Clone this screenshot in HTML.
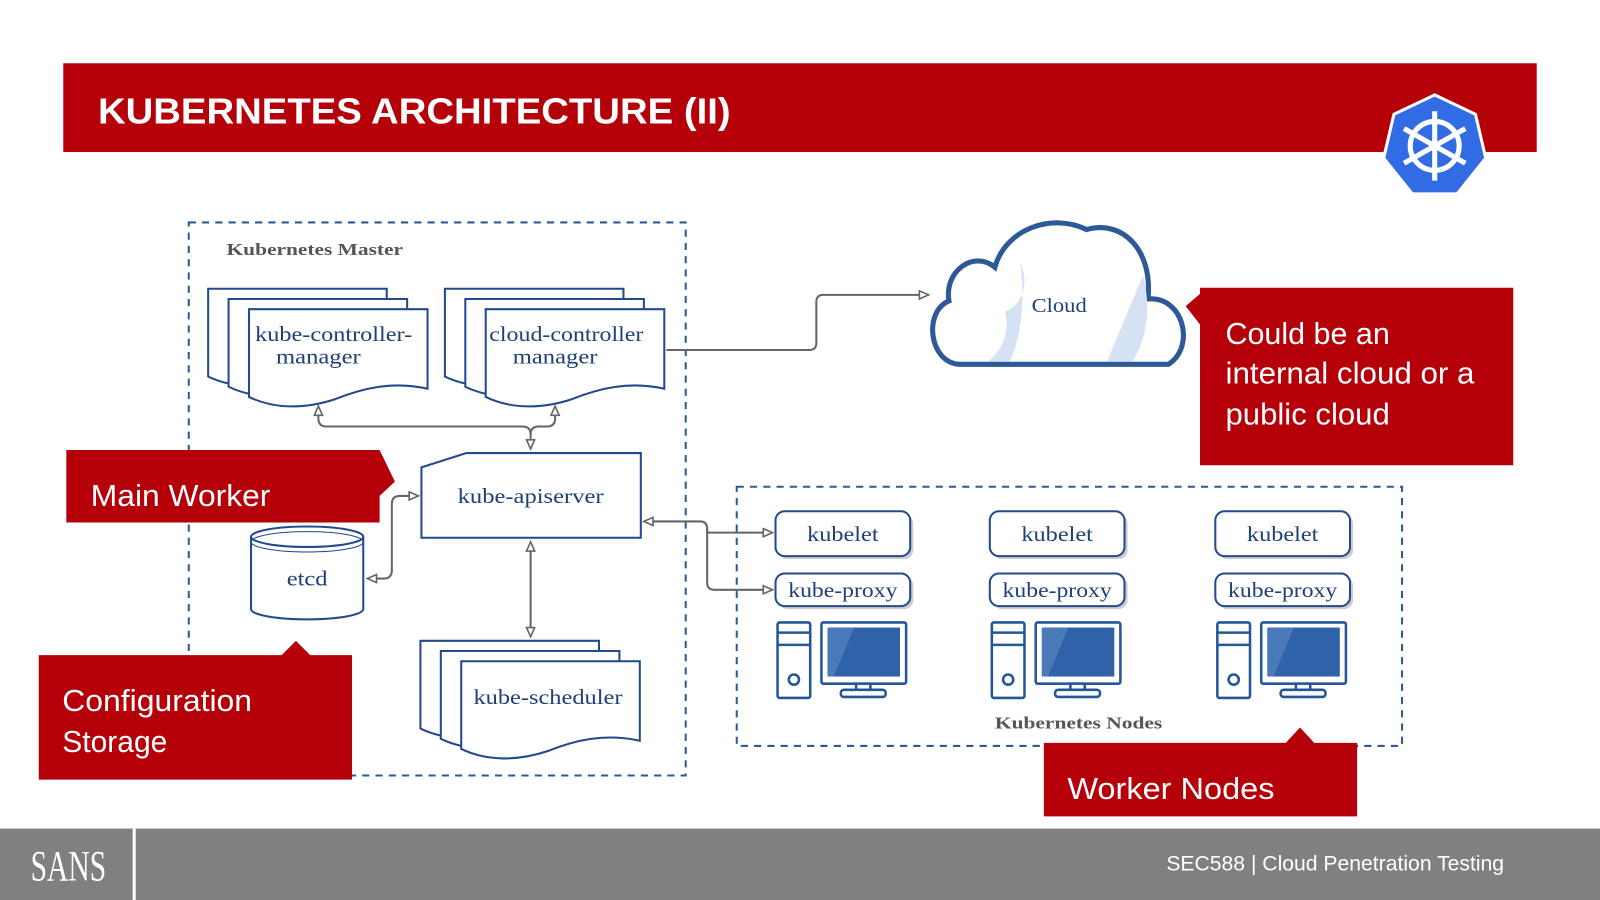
<!DOCTYPE html>
<html><head><meta charset="utf-8"><style>
html,body{margin:0;padding:0;background:#fff;width:1600px;height:900px;overflow:hidden}
svg{display:block}
.s{font-family:"Liberation Serif",serif;fill:#1f3f78}
.c{font-family:"Liberation Sans",sans-serif;fill:#fff}
</style></head><body>
<svg width="1600" height="900" viewBox="0 0 1568 882" preserveAspectRatio="none" xmlns="http://www.w3.org/2000/svg">
<defs>
<marker id="a" markerWidth="12" markerHeight="12" refX="10" refY="5" orient="auto-start-reverse" markerUnits="userSpaceOnUse"><path d="M1,1 L10,5 L1,9 Z" fill="#fff" stroke="#666" stroke-width="1.6"/></marker>
<g id="doc"><path d="M0,0 H175 V78 C140,70 110,78 85,88 C55,98 25,98 0,86 Z" fill="#fff" stroke="#24498c" stroke-width="2"/></g>
<g id="pc">
<rect x="0" y="0" width="32" height="74" rx="2" fill="#fff" stroke="#24569a" stroke-width="2.5"/>
<line x1="0" y1="10" x2="32" y2="10" stroke="#24569a" stroke-width="2.5"/>
<line x1="0" y1="22" x2="32" y2="22" stroke="#24569a" stroke-width="2.5"/>
<circle cx="16" cy="56" r="5" fill="none" stroke="#24569a" stroke-width="2.5"/>
<rect x="43" y="0" width="83" height="60" rx="2" fill="#fff" stroke="#24569a" stroke-width="2.5"/>
<rect x="49" y="5" width="71" height="48" fill="#2f62a8"/>
<path d="M49,5 H75 L55,53 H49 Z" fill="#4b7ab8"/>
<rect x="77" y="60" width="14" height="6" fill="#fff" stroke="#24569a" stroke-width="2.5"/>
<rect x="62" y="66" width="44" height="7" rx="3" fill="#fff" stroke="#24569a" stroke-width="2.5"/>
</g>
</defs>
<rect x="62" y="62" width="1444" height="87" fill="#b5000a"/>
<text x="96" y="121" font-family="Liberation Sans,sans-serif" font-weight="bold" font-size="35" fill="#fff" textLength="620" lengthAdjust="spacingAndGlyphs">KUBERNETES ARCHITECTURE (II)</text>
<polygon points="1406,93 1446,112 1456,155 1428,190 1384,190 1356,155 1366,112" fill="#326ce5" stroke="#fff" stroke-width="3"/>
<g stroke="#fff" stroke-width="5" fill="none"><circle cx="1406" cy="143" r="24"/>
<line x1="1406" y1="109" x2="1406" y2="177"/><line x1="1376" y1="126" x2="1436" y2="160"/><line x1="1376" y1="160" x2="1436" y2="126"/></g>
<circle cx="1406" cy="143" r="5" fill="#fff"/>
<rect x="185" y="218" width="487" height="542" fill="none" stroke="#2d5a96" stroke-width="2" stroke-dasharray="7,6"/>
<text x="222" y="250" font-family="Liberation Serif,serif" font-weight="bold" font-size="17" fill="#555" textLength="173" lengthAdjust="spacingAndGlyphs">Kubernetes Master</text>
<use href="#doc" x="204" y="283"/><use href="#doc" x="224" y="293"/><use href="#doc" x="244" y="303"/>
<text x="327" y="334" class="s" font-size="21" text-anchor="middle" textLength="154" lengthAdjust="spacingAndGlyphs">kube-controller-</text>
<text x="312" y="356" class="s" font-size="21" text-anchor="middle" textLength="83" lengthAdjust="spacingAndGlyphs">manager</text>
<use href="#doc" x="436" y="283"/><use href="#doc" x="456" y="293"/><use href="#doc" x="476" y="303"/>
<text x="555" y="334" class="s" font-size="21" text-anchor="middle" textLength="151" lengthAdjust="spacingAndGlyphs">cloud-controller</text>
<text x="544" y="356" class="s" font-size="21" text-anchor="middle" textLength="83" lengthAdjust="spacingAndGlyphs">manager</text>
<use href="#doc" x="412" y="628"/><use href="#doc" x="432" y="638"/><use href="#doc" x="452" y="648"/>
<text x="537" y="690" class="s" font-size="21" text-anchor="middle" textLength="146" lengthAdjust="spacingAndGlyphs">kube-scheduler</text>
<polygon points="413,458 457,444 628,444 628,527 413,527" fill="#fff" stroke="#24498c" stroke-width="2"/>
<text x="520" y="493" class="s" font-size="21" text-anchor="middle" textLength="143" lengthAdjust="spacingAndGlyphs">kube-apiserver</text>
<path d="M246,526 V597 A55,10 0 0 0 356,597 V526" fill="#fff" stroke="#24498c" stroke-width="2"/>
<ellipse cx="301" cy="526" rx="55" ry="10" fill="#fff" stroke="#24498c" stroke-width="2"/>
<ellipse cx="301" cy="531" rx="55" ry="10" fill="none" stroke="#24498c" stroke-width="1"/>
<text x="301" y="574" class="s" font-size="21" text-anchor="middle" textLength="40" lengthAdjust="spacingAndGlyphs">etcd</text>
<g fill="none" stroke="#666" stroke-width="2">
<path d="M312,398 V410 Q312,418 320,418 H512 Q520,418 520,426 V440" marker-start="url(#a)" marker-end="url(#a)"/>
<path d="M544,398 V410 Q544,418 536,418 H528 Q520,418 520,426" marker-start="url(#a)"/>
<path d="M360,567 H376 Q384,567 384,559 V494 Q384,486 392,486 H410" marker-start="url(#a)" marker-end="url(#a)"/>
<path d="M520,531 V624" marker-start="url(#a)" marker-end="url(#a)"/>
<path d="M631,511 H686 Q693,511 693,518 V522 H757" marker-start="url(#a)" marker-end="url(#a)"/>
<path d="M693,518 V571 Q693,578 700,578 H757" marker-end="url(#a)"/>
<path d="M653,343 H793 Q800,343 800,336 V296 Q800,289 807,289 H910" marker-end="url(#a)"/>
</g>
<path d="M940,357 C910,355 905,305 930,295 C925,265 955,245 975,262 C985,225 1030,208 1065,225 C1100,215 1130,245 1125,293 C1160,290 1172,340 1145,357 Z" fill="#fff" stroke="#2d5a96" stroke-width="5"/>
<path d="M1000,258 C1010,280 1000,300 985,305 C990,330 980,345 968,354 H990 C1000,330 1005,300 1000,258Z" fill="#d4e2f4"/>
<path d="M1120,270 L1085,354 H1110 C1125,330 1128,300 1120,270Z" fill="#d4e2f4"/>
<text x="1038" y="306" class="s" font-size="20" text-anchor="middle" textLength="54" lengthAdjust="spacingAndGlyphs">Cloud</text>
<path d="M1176,282 H1483 V456 H1176 V318 L1162,300 L1176,288Z" fill="#b5000a"/>
<g class="c" font-size="30">
<text x="1201" y="337" textLength="161" lengthAdjust="spacingAndGlyphs">Could be an</text>
<text x="1201" y="376" textLength="244" lengthAdjust="spacingAndGlyphs">internal cloud or a</text>
<text x="1201" y="416" textLength="161" lengthAdjust="spacingAndGlyphs">public cloud</text>
</g>
<path d="M65,441 H372 L387,472 L372,486 V512 H65Z" fill="#b5000a"/>
<text x="89" y="496" class="c" font-size="30" textLength="176" lengthAdjust="spacingAndGlyphs">Main Worker</text>
<path d="M38,642 H276 L290,628 L304,642 H345 V764 H38Z" fill="#b5000a"/>
<text x="61" y="697" class="c" font-size="30" textLength="186" lengthAdjust="spacingAndGlyphs">Configuration</text>
<text x="61" y="737" class="c" font-size="30" textLength="103" lengthAdjust="spacingAndGlyphs">Storage</text>
<rect x="722" y="477" width="652" height="254" fill="none" stroke="#2d5a96" stroke-width="2" stroke-dasharray="7,6"/>
<text x="1057" y="714" font-family="Liberation Serif,serif" font-weight="bold" font-size="17" fill="#555" text-anchor="middle" textLength="164" lengthAdjust="spacingAndGlyphs">Kubernetes Nodes</text>
<g>
<rect x="763" y="504" width="132" height="44" rx="9" fill="#ccc"/><rect x="760" y="501" width="132" height="44" rx="9" fill="#fff" stroke="#24498c" stroke-width="2"/>
<rect x="763" y="565" width="132" height="32" rx="9" fill="#ccc"/><rect x="760" y="562" width="132" height="32" rx="9" fill="#fff" stroke="#24498c" stroke-width="2"/>
<text x="826" y="530" class="s" font-size="21" text-anchor="middle" textLength="70" lengthAdjust="spacingAndGlyphs">kubelet</text><text x="826" y="585" class="s" font-size="21" text-anchor="middle" textLength="107" lengthAdjust="spacingAndGlyphs">kube-proxy</text>
<use href="#pc" x="762" y="610"/>
<rect x="973" y="504" width="132" height="44" rx="9" fill="#ccc"/><rect x="970" y="501" width="132" height="44" rx="9" fill="#fff" stroke="#24498c" stroke-width="2"/>
<rect x="973" y="565" width="132" height="32" rx="9" fill="#ccc"/><rect x="970" y="562" width="132" height="32" rx="9" fill="#fff" stroke="#24498c" stroke-width="2"/>
<text x="1036" y="530" class="s" font-size="21" text-anchor="middle" textLength="70" lengthAdjust="spacingAndGlyphs">kubelet</text><text x="1036" y="585" class="s" font-size="21" text-anchor="middle" textLength="107" lengthAdjust="spacingAndGlyphs">kube-proxy</text>
<use href="#pc" x="972" y="610"/>
<rect x="1194" y="504" width="132" height="44" rx="9" fill="#ccc"/><rect x="1191" y="501" width="132" height="44" rx="9" fill="#fff" stroke="#24498c" stroke-width="2"/>
<rect x="1194" y="565" width="132" height="32" rx="9" fill="#ccc"/><rect x="1191" y="562" width="132" height="32" rx="9" fill="#fff" stroke="#24498c" stroke-width="2"/>
<text x="1257" y="530" class="s" font-size="21" text-anchor="middle" textLength="70" lengthAdjust="spacingAndGlyphs">kubelet</text><text x="1257" y="585" class="s" font-size="21" text-anchor="middle" textLength="107" lengthAdjust="spacingAndGlyphs">kube-proxy</text>
<use href="#pc" x="1193" y="610"/>
</g>
<path d="M1023,728 H1260 L1274,713 L1288,728 H1330 V800 H1023Z" fill="#b5000a"/>
<text x="1046" y="783" class="c" font-size="30" textLength="203" lengthAdjust="spacingAndGlyphs">Worker Nodes</text>
<rect x="0" y="812" width="1568" height="70" fill="#808080"/>
<text x="30" y="863" font-family="Liberation Serif,serif" font-size="42" fill="#fff" textLength="74" lengthAdjust="spacingAndGlyphs">SANS</text>
<rect x="130" y="812" width="3" height="70" fill="#fff"/>
<text x="1143" y="853" class="c" font-size="21" textLength="331" lengthAdjust="spacingAndGlyphs">SEC588 | Cloud Penetration Testing</text>
</svg>
</body></html>
